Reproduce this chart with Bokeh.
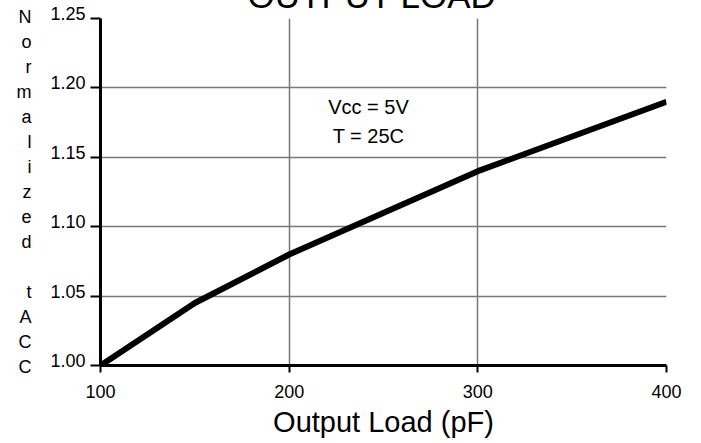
from bokeh.plotting import figure
from bokeh.models import Label, FixedTicker, Range1d, PrintfTickFormatter
from bokeh.embed import file_html
from bokeh.resources import INLINE

# ---- data ----
load_pf = [100, 150, 200, 300, 400]
norm_tacc = [1.00, 1.045, 1.08, 1.14, 1.19]
x_ticks = [100, 200, 300, 400]
y_ticks = [1.00, 1.05, 1.10, 1.15, 1.20, 1.25]
y_letters = list("Normalized") + [""] + list("tACC")
title_text = "OUTPUT LOAD"
x_label = "Output Load (pF)"
note_lines = ["Vcc = 5V", "T = 25C"]

FONT = "Liberation Sans"

p = figure(width=701, height=473,
           x_range=Range1d(100, 400), y_range=Range1d(1.0, 1.25),
           output_backend="svg", toolbar_location=None,
           min_border_left=100, min_border_right=35,
           min_border_top=0, min_border_bottom=78,
           margin=(-30, 0, -8, 0))
p.outline_line_color = None
p.background_fill_color = "white"
p.border_fill_color = "white"

# title (mostly above the visible page, as in the reference)
p.title.text = title_text
p.title.text_font = FONT
p.title.text_font_size = "35px"
p.title.text_font_style = "normal"
p.title.text_color = "black"
p.title.align = "left"
p.title.offset = 147
p.title.standoff = 7

# grid
p.xgrid.ticker = FixedTicker(ticks=x_ticks)
p.ygrid.ticker = FixedTicker(ticks=y_ticks)
for g in (p.xgrid, p.ygrid):
    g.grid_line_color = "#777777"
    g.grid_line_width = 1.5

# axes
p.xaxis.ticker = FixedTicker(ticks=x_ticks)
p.yaxis.ticker = FixedTicker(ticks=y_ticks)
p.yaxis.formatter = PrintfTickFormatter(format="%.2f")
for ax in (p.xaxis, p.yaxis):
    ax.axis_line_color = "black"
    ax.axis_line_width = 3
    ax.major_tick_line_color = "black"
    ax.major_tick_line_width = 2
    ax.major_tick_in = 0
    ax.minor_tick_line_color = None
    ax.major_label_text_font = FONT
    ax.major_label_text_font_size = "18px"
    ax.major_label_text_color = "black"
    ax.axis_label_text_font = FONT
    ax.axis_label_text_font_style = "normal"
    ax.axis_label_text_color = "black"
p.xaxis.major_tick_out = 7
p.xaxis.major_label_standoff = 12
p.yaxis.major_tick_out = 10
p.yaxis.major_label_standoff = 5
# y tick labels sit slightly above their ticks in the reference
p.yaxis.major_label_overrides = {t: "%.2f\n " % t for t in y_ticks}
p.yaxis.major_label_text_line_height = 0.45

p.xaxis.axis_label = x_label
p.xaxis.axis_label_text_font_size = "29px"
p.xaxis.axis_label_standoff = 5

# stacked vertical y-axis label
p.yaxis.axis_label = "\n".join(y_letters)
p.yaxis.axis_label_orientation = "horizontal"
p.yaxis.axis_label_text_font_size = "18px"
p.yaxis.axis_label_text_line_height = 1.25
p.yaxis.axis_label_text_align = "center"
p.yaxis.axis_label_standoff = 16

# curve
p.line(load_pf, norm_tacc, line_color="black", line_width=6)

# notes inside the plot (screen units relative to the frame bottom-left)
frame_bottom = 365
for txt, base in zip(note_lines, [106, 135]):
    p.add_layout(Label(x=268, y=frame_bottom - base, x_units="screen", y_units="screen",
                       text=txt, text_align="center", text_baseline="alphabetic",
                       text_font=FONT, text_font_size="20px", text_color="black"))

open("out.html", "w").write(file_html(p, INLINE))
